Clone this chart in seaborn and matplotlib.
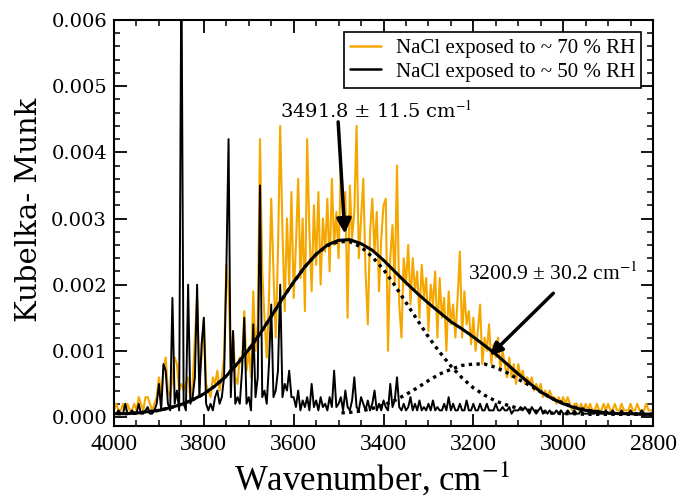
import numpy as np
import pandas as pd
import seaborn as sns
import matplotlib.pyplot as plt
from matplotlib.ticker import MultipleLocator, FormatStrFormatter

# spectra: wavenumber grid (cm-1) and Kubelka-Munk values in units of 1e-4
wn_spec = np.arange(4000, 2799, -5)

km_70rh = [
    1, 2, 1, 1, 2, 1, 2, 1, 1, 2, 1, 3, 2, 1, 3, 3, 2, 1, 2, 3,
    6, 3, 7, 9, 4, 3, 6, 9, 8, 4, 5, 4, 5, 6, 3, 5, 12, 18, 6, 9,
    15, 5, 4, 3, 6, 5, 7, 4, 6, 9, 23, 19, 8, 13, 6, 5, 9, 8, 16, 7,
    10, 6, 19, 10, 14, 42, 22, 15, 9, 18, 33, 22, 12, 25, 44, 28, 16, 30, 20, 34,
    18, 26, 36, 21, 30, 16, 42, 28, 19, 32, 23, 34, 20, 30, 25, 33, 22, 36, 26, 31,
    24, 38, 29, 34, 15, 35, 27, 31, 44, 24, 30, 36, 22, 14, 28, 33, 25, 31, 19, 27,
    32, 33, 10, 24, 29, 20, 38, 17, 12, 24, 20, 26, 17, 24, 19, 22, 15, 23, 18, 21,
    13, 20, 17, 22, 12, 21, 15, 18, 10, 19, 14, 17, 12, 18, 25, 12, 19, 14, 16, 11,
    15, 10, 13, 17, 8, 12, 10, 14, 8, 11, 9, 12, 7, 10, 8, 6, 9, 6, 8, 5,
    8, 6, 7, 5, 6, 5, 6, 4, 5, 4, 5, 3, 4, 3, 4, 3, 3, 2, 3, 2,
    3, 2, 3, 2, 1, 2, 2, 1, 2, 1, 2, 1, 2, 1, 1, 2, 1, 1, 2, 1,
    2, 1, 1, 2, 1, 1, 2, 1, 1, 1, 2, 1, 1, 2, 1, 1, 1, 2, 1, 1,
    1,
]

km_50rh = [
    .5, .5, 1, .5, .5, 2, .5, .5, 1, .5, .5, 2, .5, .5, 1, 1.5, .5, .5, 1, 2,
    5, 1, 8, 7, 2, 1, 18, 2, 4, 1, 70, 2, 1, 20, 2, 3, 6, 20, 3, 11,
    15, 2, 1, 2, 1, 3, 4, 2, 3, 6, 22, 42, 3, 13, 2, 3, 2, 7, 15, 2,
    3, 1, 14, 3, 6, 35, 3, 4, 2, 8, 17, 3, 4, 7, 20, 3, 5, 4, 7, 3,
    3, 1.5, 4, 1, 2.5, 1.5, 3, 1, 5, 1.5, 2.5, 1, 3, 1.5, 2, 1, 3, 1.5, 7, 1.5,
    2, 3, 1, 4, 1.5, 1, 2.5, 6, 1.5, 1, 3, 2, 1, 2.5, 1, 2, 4, 1, 2, 1,
    2.5, 1.5, 1, 5, 1.5, 2.5, 6, 1.5, 1, 2, 1, 1.5, 3, 1, 2, 1, 2.5, 1, 1.5, 1,
    2, 1, 2.5, 1, 1.5, 1, 1, 2, 1, 3, 1, 2, 1, 1, 2, 1, 1, 2.5, 1, 1,
    2, 1, 1, 2, 1, 1, 2, 1, 1, 1, 2, 1, 1, 1.5, 1, 1, 1.5, .5, 1, 1,
    1, 1.5, 1, 1.5, 1, .5, 1.5, 1, .5, 1, 1.5, .5, 1, .5, 1, .5, .5, 1, .5, 1,
    .5, .5, 1, .5, .5, 1, .5, .5, 1, .5, .5, .5, 1, .5, .5, 1, .5, .5, .5, 1,
    .5, .5, 1, .5, .5, .5, 1, .5, .5, .5, 1, .5, .5, .5, .5, 1, .5, .5, .5, .5,
    .5,
]

# fitted curves: wavenumber (cm-1) and values in units of 1e-3
wn_fit = np.arange(4000, 2799, -25)
wn_fit2 = np.arange(3500, 2799, -25)

fit_total = [
    .05, .05, .06, .08, .10, .14, .19, .26, .35, .47, .62, .81, 1.02, 1.26, 1.52, 1.79,
    2.04, 2.27, 2.46, 2.60, 2.67, 2.68, 2.62, 2.52, 2.37, 2.20, 2.03, 1.87, 1.72, 1.58,
    1.44, 1.33, 1.21, 1.08, .95, .80, .65, .51, .38, .28, .20, .14, .10, .08, .06, .05,
    .05, .04, .04,
]
fit_peak1 = [
    .05, .05, .06, .08, .10, .14, .19, .26, .35, .47, .62, .81, 1.02, 1.26, 1.52, 1.79,
    2.04, 2.27, 2.46, 2.59, 2.65, 2.65, 2.57, 2.42, 2.23, 1.99, 1.73, 1.47, 1.21, .98,
    .77, .59, .44, .33, .24, .18, .13, .10, .08, .06, .05, .05, .04, .04, .04, .04,
    .04, .04, .04,
]
fit_peak2 = [
    .06, .07, .09, .13, .18, .25, .34, .44, .55, .65,
    .72, .78, .80, .80, .75, .67, .57, .48, .38, .28, .21, .15, .11, .08, .06, .05,
    .05, .04, .04,
]

labels = ['NaCl exposed to ~ 70 % RH', 'NaCl exposed to ~ 50 % RH']
orange = '#F5A700'

spec = pd.DataFrame({'wn': wn_spec,
                     'rh70': np.array(km_70rh) * 1e-4,
                     'rh50': np.array(km_50rh) * 1e-4})
fit = pd.DataFrame({'wn': wn_fit,
                    'total': np.array(fit_total) * 1e-3,
                    'p1': np.array(fit_peak1) * 1e-3})
fit2 = pd.DataFrame({'wn': wn_fit2, 'p2': np.array(fit_peak2) * 1e-3})

sns.set_theme(style='ticks')
plt.rcParams['font.family'] = ['Liberation Serif', 'DejaVu Serif']
plt.rcParams['mathtext.fontset'] = 'stix'
plt.rcParams['text.color'] = 'black'
plt.rcParams['axes.labelcolor'] = 'black'
plt.rcParams['xtick.color'] = 'black'
plt.rcParams['ytick.color'] = 'black'

fig = plt.figure(figsize=(6.84, 4.99), dpi=100)
ax = fig.add_axes([0.1667, 0.1463, 0.788, 0.8136])

sns.lineplot(data=spec, x='wn', y='rh70', ax=ax, color=orange, lw=1.5,
             label=labels[0])
sns.lineplot(data=spec, x='wn', y='rh50', ax=ax, color='black', lw=1.4,
             label=labels[1])
sns.lineplot(data=fit, x='wn', y='p1', ax=ax, color='black', lw=2.4,
             linestyle=(0, (1, 1.3)))
sns.lineplot(data=fit2, x='wn', y='p2', ax=ax, color='black', lw=2.4,
             linestyle=(0, (1, 1.3)))
sns.lineplot(data=fit, x='wn', y='total', ax=ax, color='black', lw=2.2)

ax.set_xlim(4000, 2800)
ax.set_ylim(-0.000136, 0.006)
ax.xaxis.set_major_locator(MultipleLocator(200))
ax.xaxis.set_minor_locator(MultipleLocator(50))
ax.yaxis.set_major_locator(MultipleLocator(0.001))
ax.yaxis.set_minor_locator(MultipleLocator(0.0002))
ax.yaxis.set_major_formatter(FormatStrFormatter('%.3f'))
ax.tick_params(which='both', direction='in', top=True, right=True, color='black',
               labelcolor='black')
ax.tick_params(which='major', length=9, width=1.3)
ax.tick_params(which='minor', length=4.5, width=1.1)
ax.tick_params(axis='x', labelsize=17, pad=6)
ax.tick_params(axis='y', labelsize=14, pad=5)
for t in ax.get_yticklabels():
    t.set_family('DejaVu Serif')
for s in ax.spines.values():
    s.set_linewidth(1.5)
    s.set_color('black')

ax.set_xlabel('Wavenumber, cm$^{-1}$', fontsize=25)
ax.xaxis.set_label_coords(0.479, -0.085)
ax.set_ylabel('Kubelka- Munk', fontsize=21, family='DejaVu Serif')
ax.yaxis.set_label_coords(-0.132, 0.532)

# peak annotations
ax.text(3630, 0.00453, '3491.8 ± 11.5 cm$^{-1}$', fontsize=14,
        family='DejaVu Serif', ha='left', va='baseline')
ax.annotate('', xy=(3486, 0.00277), xytext=(3501, 0.00446),
            arrowprops=dict(arrowstyle='-|>', color='black', lw=2.5,
                            mutation_scale=22, shrinkA=0, shrinkB=0))
ax.text(3212, 0.00207, '3200.9 ± 30.2 cm$^{-1}$', fontsize=15.5,
        ha='left', va='baseline')
ax.annotate('', xy=(3163, 0.00093), xytext=(3022, 0.00187),
            arrowprops=dict(arrowstyle='-|>', color='black', lw=2.5,
                            mutation_scale=18, shrinkA=0, shrinkB=0))

handles = ax.get_lines()[:2]
leg = ax.legend(handles, labels, loc='upper right', bbox_to_anchor=(0.978, 0.97),
                borderaxespad=0, frameon=True, fancybox=False, framealpha=1,
                edgecolor='black', prop={'family': 'Liberation Serif', 'size': 15},
                handlelength=1.5, handletextpad=0.7, borderpad=0.3,
                labelspacing=0.2)
leg.get_frame().set_linewidth(1.2)
for h in leg.get_lines():
    h.set_linewidth(1.8)

fig.savefig('out.png', dpi=100)
